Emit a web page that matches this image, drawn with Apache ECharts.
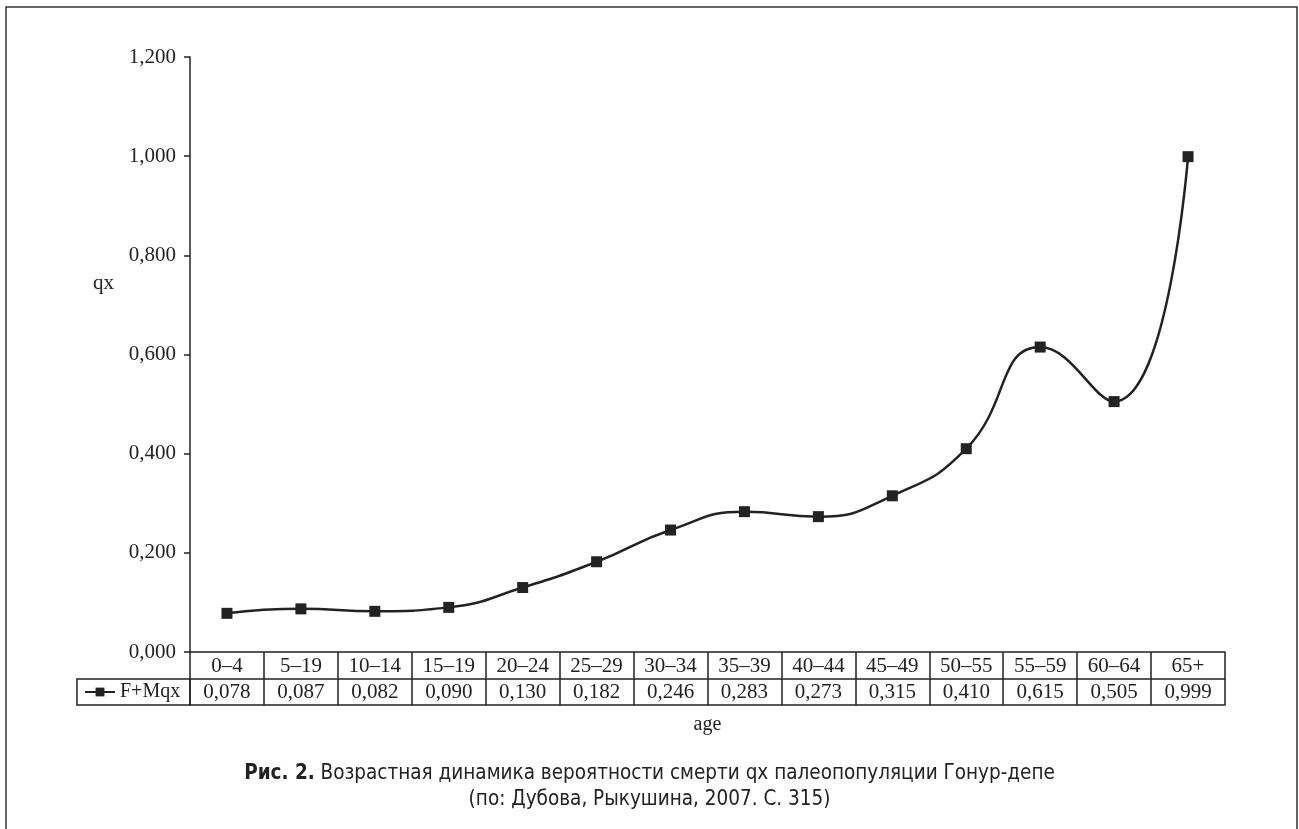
<!DOCTYPE html>
<html>
<head>
<meta charset="utf-8">
<script src="https://cdn.jsdelivr.net/npm/echarts@6/dist/echarts.min.js"></script>
<style>
  html, body { margin: 0; padding: 0; background: #fff; }
  #chart { width: 1299px; height: 829px; }
</style>
</head>
<body>
<div id="chart"></div>
<script>
// age groups and qx values (table under the chart)
const ages = ['0–4', '5–19', '10–14', '15–19', '20–24', '25–29', '30–34', '35–39', '40–44', '45–49', '50–55', '55–59', '60–64', '65+'];
const qx = [0.078, 0.087, 0.082, 0.090, 0.130, 0.182, 0.246, 0.283, 0.273, 0.315, 0.410, 0.615, 0.505, 0.999];
const yTicks = [0, 0.2, 0.4, 0.6, 0.8, 1.0, 1.2];
const seriesName = 'F+Mqx';

const serif = '"Liberation Serif", "DejaVu Serif", serif';
const narrow = '"Liberation Sans Narrow", "DejaVu Sans Condensed", sans-serif';
const ink = '#222';

// 0,200 style
function fmt(v) {
  return v.toFixed(3).replace('.', ',');
}

let myChart = echarts.init(document.getElementById('chart'));

let option = {
  backgroundColor: '#fff',
  animation: false,
  title: [{
    text: '{b|Рис. 2.} Возрастная динамика вероятности смерти qx палеопопуляции Гонур-депе',
    left: 'center',
    top: 758,
    textStyle: {
      fontFamily: narrow,
      fontSize: 20.5,
      fontWeight: 'normal',
      color: ink,
      rich: {
        b: { fontFamily: narrow, fontSize: 20.5, fontWeight: 'bold', color: ink }
      }
    }
  }, {
    text: '(по: Дубова, Рыкушина, 2007. С. 315)',
    left: 'center',
    top: 784,
    textStyle: { fontFamily: narrow, fontSize: 20.5, fontWeight: 'normal', color: ink }
  }, {
    text: 'qx',
    left: 88,
    top: 268,
    textStyle: { fontFamily: serif, fontSize: 21, fontWeight: 'normal', color: ink }
  }],
  legend: {
    data: [seriesName],
    left: 84,
    top: 680,
    padding: 0,
    itemWidth: 30,
    itemHeight: 11,
    textStyle: { fontFamily: serif, fontSize: 20, color: ink, lineHeight: 24 }
  },
  grid: {
    left: 190,
    right: 74,
    top: 57,
    bottom: 177,
    containLabel: false,
    outerBoundsMode: 'none'
  },
  xAxis: [{
    // first table row: age groups
    type: 'category',
    data: ages,
    boundaryGap: true,
    axisLine: { show: true, lineStyle: { color: ink, width: 1.5 } },
    axisTick: { show: true, interval: 0, length: 53, lineStyle: { color: ink, width: 1.5 } },
    axisLabel: { interval: 0, margin: 4, fontFamily: serif, fontSize: 21, color: ink },
    splitLine: { show: false }
  }, {
    // second table row: values
    type: 'category',
    data: ages,
    position: 'bottom',
    offset: 27,
    axisLine: { show: true, onZero: false, lineStyle: { color: ink, width: 1.5 } },
    axisTick: { show: false },
    axisLabel: {
      interval: 0,
      margin: 3,
      fontFamily: serif,
      fontSize: 21,
      color: ink,
      formatter: function (v, i) { return fmt(qx[i]); }
    },
    splitLine: { show: false }
  }, {
    // bottom border of the table + axis name
    type: 'category',
    data: ages,
    position: 'bottom',
    offset: 53,
    name: 'age',
    nameLocation: 'middle',
    nameGap: 10,
    nameTextStyle: { fontFamily: serif, fontSize: 20, color: ink },
    axisLine: { show: true, onZero: false, lineStyle: { color: ink, width: 1.5 } },
    axisTick: { show: false },
    axisLabel: { show: false },
    splitLine: { show: false }
  }],
  yAxis: {
    type: 'value',
    min: yTicks[0],
    max: yTicks[yTicks.length - 1],
    interval: yTicks[1] - yTicks[0],
    axisLine: { show: true, lineStyle: { color: ink, width: 1.5 } },
    axisTick: { show: true, length: 6, lineStyle: { color: ink, width: 1.5 } },
    axisLabel: { margin: 14, fontFamily: serif, fontSize: 21, color: ink, formatter: fmt },
    splitLine: { show: false }
  },
  series: [{
    name: seriesName,
    type: 'line',
    data: qx,
    smooth: 0.5,
    symbol: 'rect',
    symbolSize: 11,
    lineStyle: { color: ink, width: 2.5 },
    itemStyle: { color: ink }
  }],
  graphic: [{
    // outer frame of the figure
    type: 'rect',
    shape: { x: 6, y: 7, width: 1291, height: 840 },
    style: { fill: null, stroke: '#333', lineWidth: 1.5 },
    silent: true
  }, {
    // legend cell of the table
    type: 'rect',
    shape: { x: 77, y: 679, width: 113, height: 26 },
    style: { fill: null, stroke: ink, lineWidth: 1.5 },
    silent: true
  }]
};

myChart.setOption(option);
</script>
</body>
</html>
